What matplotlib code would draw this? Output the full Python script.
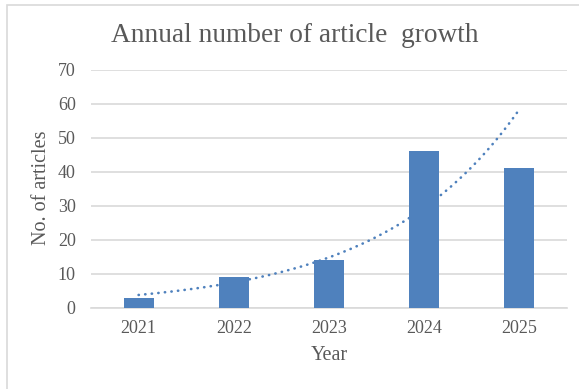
import numpy as np
import matplotlib
matplotlib.use('Agg')
import matplotlib.pyplot as plt
from matplotlib.patches import Rectangle

years = ['2021', '2022', '2023', '2024', '2025']
articles = [3, 9, 14, 46, 41]

title = 'Annual number of article  growth'
bar_color = '#4F81BD'
text_color = '#595959'
grid_color = '#D9D9D9'

plt.rcParams['font.family'] = ['Liberation Serif', 'DejaVu Serif']

fig = plt.figure(figsize=(5.79, 3.89), dpi=100)
fig.patch.set_facecolor('white')

# chart frame like an office chart border (right/bottom run off the image)
W, H = 579, 389
fig.patches.append(Rectangle((7.5 / W, -0.05), 1.2, 1 - 4.5 / H + 0.05,
                             transform=fig.transFigure, fill=False,
                             edgecolor=grid_color, linewidth=1.2))

ax = fig.add_axes([91 / W, 1 - 307.7 / H, (567 - 91) / W, (307.7 - 70) / H])

x = np.arange(len(years))
ax.bar(x, articles, width=0.315, color=bar_color, zorder=3)

# exponential trendline fitted to the data (like Excel)
b, a = np.polyfit(x + 1, np.log(articles), 1)
xs = np.linspace(0, len(years) - 1, 200)
ax.plot(xs, np.exp(a + b * (xs + 1)), color=bar_color, linewidth=1.9,
        linestyle=(0, (0.1, 2.4)), dash_capstyle='round', zorder=4)

ax.set_xlim(-0.5, len(years) - 0.5)
ax.set_ylim(0, 70)
ax.set_yticks(np.arange(0, 71, 10))
ax.set_xticks(x)
ax.set_xticklabels(years)
ax.yaxis.grid(True, color=grid_color, linewidth=1.2)
ax.set_axisbelow(True)
for s in ['top', 'right', 'left']:
    ax.spines[s].set_visible(False)
ax.spines['bottom'].set_color(grid_color)
ax.spines['bottom'].set_linewidth(1.2)
ax.tick_params(length=0, colors=text_color, labelsize=13)
ax.tick_params(axis='y', pad=11)
ax.tick_params(axis='x', pad=9)

fig.text(329 / W, 1 - 355 / H, 'Year', ha='center', va='center',
         color=text_color, fontsize=14.5)
fig.text(42 / W, 1 - 188 / H, 'No. of articles', ha='center', va='center',
         rotation=90, color=text_color, fontsize=14.5)

fig.text(295 / W, 1 - 35 / H, title, ha='center', va='center',
         color=text_color, fontsize=19.7)

fig.savefig('out.png', dpi=100)
